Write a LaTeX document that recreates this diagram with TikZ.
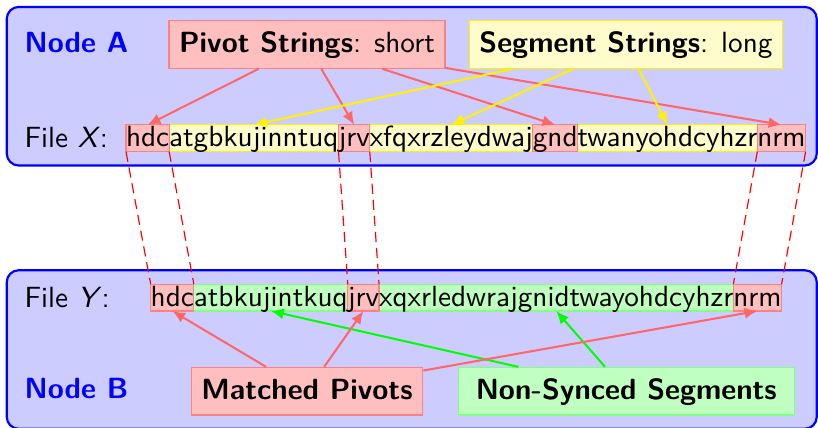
\documentclass[tikz,border=0pt]{standalone}
\usepackage{fontspec}
\usetikzlibrary{arrows.meta}
\pgfdeclarelayer{panels}
\pgfdeclarelayer{rows}
\pgfsetlayers{panels,rows,main}
\tikzset{
  every node/.style={font=\sffamily},
  panel/.style={draw=blue, fill=blue!20, line width=0.75pt, rounded corners=4.1pt,
    minimum width=277.4pt, minimum height=54.3pt, inner sep=0pt},
  paneltitle/.style={text=blue, font=\sffamily\bfseries, anchor=base west, inner sep=0pt},
  rowlabel/.style={anchor=base west, inner sep=0pt},
  frag/.style={anchor=base west, inner xsep=0pt, inner ysep=0pt, outer sep=0pt,
    text height=7.5pt, text depth=1.7pt, line width=0.4pt},
  pivfrag/.style={frag, draw=red!50, fill=red!25},
  segfrag/.style={frag},
  keybox/.style={minimum height=16.3pt, inner xsep=3pt, inner ysep=0pt,
    text height=7.5pt, text depth=1.7pt, line width=0.4pt},
  pivkey/.style={keybox, draw=red!50, fill=red!25},
  segkey/.style={keybox, draw=yellow, fill=yellow!20},
  synkey/.style={keybox, draw=green!50, fill=green!25},
  link/.style={line width=0.7pt, -{Latex[length=4.4pt,width=3.8pt]}},
  pivlink/.style={link, draw=red!60, fill=red!60},
  seglink/.style={link, draw=yellow, fill=yellow},
  synlink/.style={link, draw=green, fill=green},
  match/.style={red, line width=0.4pt, dash pattern=on 3.5pt off 2pt},
}
\begin{document}
\begin{tikzpicture}[x=0.34247pt, y=-0.34247pt]
\useasboundingbox (0,0) rectangle (818,427);

% the two panels
\begin{pgfonlayer}{panels}
  \node[panel] (nodeA) at (411.75,86.2) {};
  \node[panel, minimum height=54.3pt] (nodeB) at (411.75,349.5) {};
\end{pgfonlayer}

\node[paneltitle] (titleA) at (24,52.3) {Node A};
\node[paneltitle] (titleB) at (24,398.3) {Node B};

\node[pivkey, minimum width=94.5pt] (pivot) at (307,44.5) {\textbf{Pivot Strings}: short};
\node[segkey, minimum width=107.3pt] (segment) at (626,44.5) {\textbf{Segment Strings}: long};
\node[pivkey, minimum width=79.35pt] (matched) at (307,391.2) {\textbf{Matched Pivots}};
\node[synkey, minimum width=115.1pt] (nonsync) at (626.3,391.2) {\textbf{Non-Synced Segments}};

% file X
\node[rowlabel] (fileX) at (24,147.2) {File \textit{X}:};
\node[pivfrag] (xa) at (126,146.7) {hdc};
\node[segfrag] (xb) at (xa.base east) {atgbkujinntuq};
\node[pivfrag] (xc) at (xb.base east) {jrv};
\node[segfrag] (xd) at (xc.base east) {xfqxrzleydwaj};
\node[pivfrag] (xe) at (xd.base east) {gnd};
\node[segfrag] (xf) at (xe.base east) {twanyohdcyhzr};
\node[pivfrag] (xg) at (xf.base east) {nrm};

% file Y
\node[rowlabel] (fileY) at (24,307.5) {File \textit{Y}:};
\node[pivfrag] (ya) at (150.7,306) {hdc};
\node[segfrag] (yb) at (ya.base east) {atbkujintkuq};
\node[pivfrag] (yc) at (yb.base east) {jrv};
\node[segfrag] (yd) at (yc.base east) {xqxrledwrajgnidtwayohdcyhzr};
\node[pivfrag] (ye) at (yd.base east) {nrm};

\begin{pgfonlayer}{rows}
  \draw[draw=yellow, fill=yellow!20, line width=0.4pt] (xa.south west) rectangle (xg.north east);
  \draw[draw=green!50, fill=green!25, line width=0.4pt] (ya.south west) rectangle (ye.north east);
\end{pgfonlayer}

% pivots and segments of file X
\draw[pivlink] (pivot) -- (xa.north);
\draw[pivlink] (pivot) -- (xc.north);
\draw[pivlink] (pivot) -- (xe.north);
\draw[pivlink] (pivot) -- (xg.north);
\draw[seglink] (segment) -- (xb.north);
\draw[seglink] (segment) -- (xd.north);
\draw[seglink] (segment) -- (xf.north);

% segments and matched pivots of file Y
\draw[synlink] (nonsync) -- (yb.south);
\draw[synlink] (nonsync) -- (yd.south);
\draw[pivlink] (matched) -- (ya.south);
\draw[pivlink] (matched) -- (yc.south);
\draw[pivlink] (matched) -- (ye.south);

% pivot matches between the files
\draw[match] (xa.south west) -- (ya.north west);
\draw[match] (xa.south east) -- (ya.north east);
\draw[match] (xc.south west) -- (yc.north west);
\draw[match] (xc.south east) -- (yc.north east);
\draw[match] (xg.south west) -- (ye.north west);
\draw[match] (xg.south east) -- (ye.north east);
\end{tikzpicture}
\end{document}
